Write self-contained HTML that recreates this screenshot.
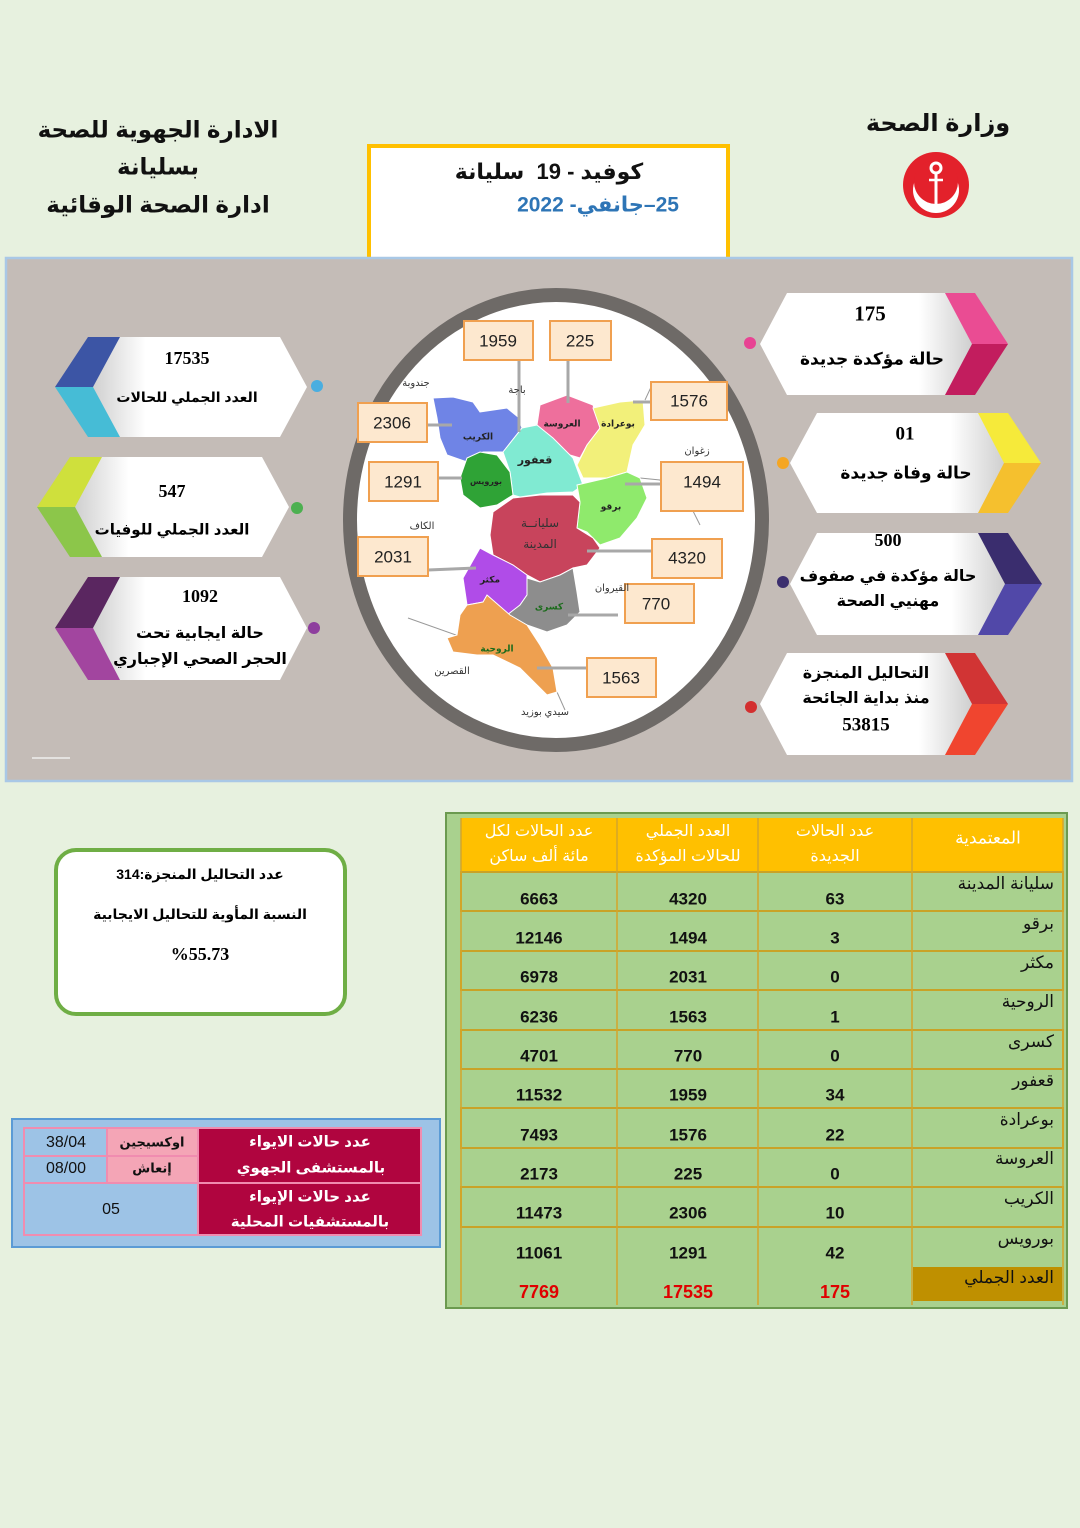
<!DOCTYPE html>
<html><head><meta charset="utf-8">
<style>
html,body{margin:0;padding:0}
body{width:1080px;height:1528px;background:#e7f1df;position:relative;overflow:hidden;font-family:"Liberation Sans","DejaVu Sans",sans-serif}
.t{position:absolute;white-space:nowrap;transform:translate(-50%,-50%);text-align:center;line-height:1}
.ar{direction:rtl;font-family:"Liberation Sans","DejaVu Sans",sans-serif;font-weight:bold}
.num{font-family:"Liberation Serif",serif;font-weight:bold}
.r{position:absolute;white-space:nowrap;direction:rtl;line-height:1;font-family:"Liberation Sans","DejaVu Sans",sans-serif}
svg{position:absolute;left:0;top:0}
</style></head><body>
<svg width="1080" height="1528" viewBox="0 0 1080 1528">
<defs>
<linearGradient id="gl" x1="0" x2="1" y1="0" y2="0"><stop offset="0" stop-color="#cfcfcf"/><stop offset="0.25" stop-color="#ffffff"/><stop offset="1" stop-color="#ffffff"/></linearGradient>
<linearGradient id="gr" x1="1" x2="0" y1="0" y2="0"><stop offset="0" stop-color="#cfcfcf"/><stop offset="0.25" stop-color="#ffffff"/><stop offset="1" stop-color="#ffffff"/></linearGradient>
</defs>
<!-- header box -->
<rect x="369" y="146" width="359" height="114" fill="#fff" stroke="#ffc000" stroke-width="4"/>
<!-- logo -->
<circle cx="936" cy="185" r="33" fill="#e3212b"/>
<circle cx="936" cy="190" r="23" fill="#fff"/>
<circle cx="936" cy="182" r="22" fill="#e3212b"/>
<circle cx="936" cy="168" r="5" fill="none" stroke="#fff" stroke-width="3"/>
<line x1="936" y1="173" x2="936" y2="210" stroke="#fff" stroke-width="3"/>
<line x1="929" y1="180" x2="943" y2="180" stroke="#fff" stroke-width="2.5"/>
<!-- panel -->
<rect x="6" y="258" width="1066" height="523" fill="#c4bcb7" stroke="#a9c8e6" stroke-width="2.5"/>
<line x1="32" y1="758" x2="70" y2="758" stroke="#eee" stroke-width="1.5"/>
<!-- circle -->
<ellipse cx="556" cy="520" rx="206" ry="225" fill="#fff" stroke="#6e6a67" stroke-width="14"/>
<!-- left cards -->
<polygon points="118,337 280,337 307,387 280,437 118,437 92,387" fill="url(#gl)"/>
<polygon points="88,337 120,337 93,387 55,387" fill="#3c55a5"/>
<polygon points="55,387 93,387 120,437 88,437" fill="#46bcd6"/>
<circle cx="317" cy="386" r="6" fill="#4aaee0"/>
<polygon points="100,457 262,457 289,507 262,557 100,557 75,507" fill="url(#gl)"/>
<polygon points="70,457 102,457 75,507 37,507" fill="#cfe03c"/>
<polygon points="37,507 75,507 102,557 70,557" fill="#8cc64a"/>
<circle cx="297" cy="508" r="6" fill="#4cb050"/>
<polygon points="118,577 280,577 307,628 280,680 118,680 92,628" fill="url(#gl)"/>
<polygon points="88,577 120,577 93,628 55,628" fill="#5a2660"/>
<polygon points="55,628 93,628 120,680 88,680" fill="#a2459f"/>
<circle cx="314" cy="628" r="6" fill="#8e3e9e"/>
<!-- right cards -->
<polygon points="787,293 950,293 972,344 950,395 787,395 760,344" fill="url(#gr)"/>
<polygon points="945,293 975,293 1008,344 972,344" fill="#ea4c93"/>
<polygon points="972,344 1008,344 975,395 945,395" fill="#c21d5e"/>
<circle cx="750" cy="343" r="6" fill="#e84393"/>
<polygon points="817,413 982,413 1004,463 982,513 817,513 790,463" fill="url(#gr)"/>
<polygon points="978,413 1008,413 1041,463 1004,463" fill="#f6ea3a"/>
<polygon points="1004,463 1041,463 1008,513 978,513" fill="#f5c02e"/>
<circle cx="783" cy="463" r="6" fill="#f5a623"/>
<polygon points="817,533 982,533 1005,584 982,635 817,635 790,584" fill="url(#gr)"/>
<polygon points="978,533 1008,533 1042,584 1005,584" fill="#3a2d6e"/>
<polygon points="1005,584 1042,584 1008,635 978,635" fill="#5148a8"/>
<circle cx="783" cy="582" r="6" fill="#3c2f6e"/>
<polygon points="787,653 950,653 972,704 950,755 787,755 760,704" fill="url(#gr)"/>
<polygon points="945,653 975,653 1008,704 972,704" fill="#d13434"/>
<polygon points="972,704 1008,704 975,755 945,755" fill="#f0452f"/>
<circle cx="751" cy="707" r="6" fill="#d32f2f"/>
<!-- map outline context lines -->
<g fill="none" stroke="#999" stroke-width="1">
<path d="M645,400 L652,385 L668,382"/>
<path d="M640,478 L660,480 L668,497 L690,505 L700,525"/>
<path d="M470,640 L408,618"/>
<path d="M557,692 L565,710"/>
</g>
<!-- map regions -->
<g stroke="#ffffff" stroke-width="1">
<polygon points="433,398 453,397 473,402 480,412 507,408 518,417 522,428 503,452 483,452 467,462 447,455 440,438 437,418" fill="#6f84e6"/>
<polygon points="540,405 567,395 593,405 600,428 587,445 580,458 560,452 540,432 537,425" fill="#ee6f9c"/>
<polygon points="593,408 620,402 643,400 645,425 633,445 627,472 607,478 583,478 577,465 587,445 600,428" fill="#f2f07a"/>
<polygon points="503,452 522,428 537,425 553,438 573,458 583,485 573,492 547,493 520,497 513,495 510,472" fill="#80ead2"/>
<polygon points="467,458 480,452 497,455 510,472 513,495 497,505 480,508 463,495 460,478" fill="#2fa336"/>
<polygon points="577,485 607,478 627,472 640,478 647,498 637,518 620,538 600,545 587,532 577,528 580,502" fill="#8fea6c"/>
<polygon points="493,512 513,498 540,495 573,495 580,502 577,528 593,538 600,548 587,565 573,568 560,575 540,582 527,575 513,565 493,555 490,535" fill="#c8445c"/>
<polygon points="480,548 493,555 513,565 527,575 527,595 520,605 510,615 497,608 483,602 467,605 463,578" fill="#b04ce8"/>
<polygon points="527,578 540,582 560,575 573,568 577,592 580,612 567,625 547,632 527,625 507,615 520,605 527,595" fill="#8d8d8d"/>
<polygon points="467,605 483,602 487,595 510,615 527,625 540,645 553,668 557,692 547,695 520,668 493,655 477,655 453,652 447,638 457,635 460,615" fill="#eea050"/>
</g>
<!-- connector lines -->
<g stroke="#a8a8a8" stroke-width="3">
<line x1="519" y1="360" x2="519" y2="432"/>
<line x1="568" y1="360" x2="568" y2="403"/>
<line x1="427" y1="425" x2="452" y2="425"/>
<line x1="438" y1="478" x2="462" y2="478"/>
<line x1="651" y1="402" x2="633" y2="402"/>
<line x1="661" y1="484" x2="625" y2="484"/>
<line x1="428" y1="570" x2="476" y2="568"/>
<line x1="652" y1="551" x2="587" y2="551"/>
<line x1="618" y1="615" x2="568" y2="615"/>
<line x1="587" y1="668" x2="537" y2="668"/>
</g>
<!-- number boxes -->
<g fill="#fde8cf" stroke="#f0a050" stroke-width="2">
<rect x="464" y="321" width="69" height="39"/>
<rect x="550" y="321" width="61" height="39"/>
<rect x="651" y="382" width="76" height="38"/>
<rect x="358" y="403" width="69" height="39"/>
<rect x="661" y="462" width="82" height="49"/>
<rect x="369" y="462" width="69" height="39"/>
<rect x="358" y="537" width="70" height="39"/>
<rect x="652" y="539" width="70" height="39"/>
<rect x="625" y="584" width="69" height="39"/>
<rect x="587" y="658" width="69" height="39"/>
</g>
<!-- green box -->
<rect x="56" y="850" width="289" height="164" rx="20" fill="#fff" stroke="#6fae45" stroke-width="4"/>
<!-- hospital table -->
<rect x="12" y="1119" width="428" height="128" fill="#9dc3e6" stroke="#5b9bd5" stroke-width="2"/>
<g stroke="#f08cb0" stroke-width="2">
<rect x="24" y="1128" width="83" height="28" fill="#9dc3e6"/>
<rect x="24" y="1156" width="83" height="27" fill="#9dc3e6"/>
<rect x="107" y="1128" width="91" height="28" fill="#f4a5b6"/>
<rect x="107" y="1156" width="91" height="27" fill="#f4a5b6"/>
<rect x="198" y="1128" width="223" height="55" fill="#b0053f"/>
<rect x="24" y="1183" width="174" height="52" fill="#9dc3e6"/>
<rect x="198" y="1183" width="223" height="52" fill="#b0053f"/>
</g>
<!-- main table -->
<rect x="446" y="813" width="621" height="495" fill="#a9d18e" stroke="#6b9a4f" stroke-width="2"/>
<rect x="461" y="818" width="602" height="54" fill="#ffc000"/>
<g fill="none" stroke="#c9a227" stroke-width="2">
<rect x="461" y="872" width="602" height="39"/>
<rect x="461" y="951" width="602" height="39"/>
<rect x="461" y="1030" width="602" height="39"/>
<rect x="461" y="1108" width="602" height="40"/>
<rect x="461" y="1187" width="602" height="40"/>
</g>
<g stroke="#d4a62a" stroke-width="1.5">
<line x1="461" y1="818" x2="461" y2="1305"/>
<line x1="617" y1="818" x2="617" y2="1305"/>
<line x1="758" y1="818" x2="758" y2="1305"/>
<line x1="912" y1="818" x2="912" y2="1305"/>
<line x1="1063" y1="818" x2="1063" y2="1305"/>
</g>
<rect x="913" y="1267" width="149" height="34" fill="#bf9000"/>
</svg>

<!-- header text -->
<div class="t ar" style="left:938px;top:124px;font-size:24px;color:#111">وزارة الصحة</div>
<div class="t ar" style="left:158px;top:130px;font-size:23px;color:#111">الادارة الجهوية للصحة</div>
<div class="t ar" style="left:158px;top:167px;font-size:23px;color:#111">بسليانة</div>
<div class="t ar" style="left:158px;top:205px;font-size:23px;color:#111">ادارة الصحة الوقائية</div>
<div class="t ar" style="left:549px;top:172px;font-size:22px;color:#111">كوفيد - 19&nbsp; سليانة</div>
<div class="t ar" style="left:598px;top:205px;font-size:21px;color:#2e75b6">25–جانفي- 2022</div>

<!-- left cards text -->
<div class="t num" style="left:187px;top:358px;font-size:18px">17535</div>
<div class="t ar" style="left:187px;top:397px;font-size:14px">العدد الجملي للحالات</div>
<div class="t num" style="left:172px;top:491px;font-size:18px">547</div>
<div class="t ar" style="left:172px;top:530px;font-size:15px">العدد الجملي للوفيات</div>
<div class="t num" style="left:200px;top:596px;font-size:18px">1092</div>
<div class="t ar" style="left:200px;top:634px;font-size:16px">حالة ايجابية تحت</div>
<div class="t ar" style="left:200px;top:660px;font-size:16px">الحجر الصحي الإجباري</div>

<!-- right cards text -->
<div class="t num" style="left:870px;top:314px;font-size:21px">175</div>
<div class="t ar" style="left:872px;top:359px;font-size:17px">حالة مؤكدة جديدة</div>
<div class="t num" style="left:905px;top:434px;font-size:19px">01</div>
<div class="t ar" style="left:906px;top:473px;font-size:17px">حالة وفاة جديدة</div>
<div class="t num" style="left:888px;top:540px;font-size:18px">500</div>
<div class="t ar" style="left:888px;top:577px;font-size:16px">حالة مؤكدة في صفوف</div>
<div class="t ar" style="left:888px;top:602px;font-size:16px">مهنيي الصحة</div>
<div class="t ar" style="left:866px;top:674px;font-size:16px">التحاليل المنجزة</div>
<div class="t ar" style="left:866px;top:699px;font-size:16px">منذ بداية الجائحة</div>
<div class="t num" style="left:866px;top:725px;font-size:19px">53815</div>

<!-- map numbers -->
<div class="t" style="left:498px;top:341px;font-size:17px;color:#222">1959</div>
<div class="t" style="left:580px;top:341px;font-size:17px;color:#222">225</div>
<div class="t" style="left:689px;top:401px;font-size:17px;color:#222">1576</div>
<div class="t" style="left:392px;top:423px;font-size:17px;color:#222">2306</div>
<div class="t" style="left:702px;top:482px;font-size:17px;color:#222">1494</div>
<div class="t" style="left:403px;top:482px;font-size:17px;color:#222">1291</div>
<div class="t" style="left:393px;top:557px;font-size:17px;color:#222">2031</div>
<div class="t" style="left:687px;top:558px;font-size:17px;color:#222">4320</div>
<div class="t" style="left:656px;top:604px;font-size:17px;color:#222">770</div>
<div class="t" style="left:621px;top:678px;font-size:17px;color:#222">1563</div>

<!-- map labels -->
<div class="t ar" style="left:478px;top:437px;font-size:9px;color:#222">الكريب</div>
<div class="t ar" style="left:562px;top:424px;font-size:9px;color:#222">العروسة</div>
<div class="t ar" style="left:618px;top:424px;font-size:9px;color:#222">بوعرادة</div>
<div class="t ar" style="left:535px;top:461px;font-size:11px;color:#222">قعفور</div>
<div class="t ar" style="left:486px;top:482px;font-size:8px;color:#222">بورويس</div>
<div class="t ar" style="left:611px;top:507px;font-size:9px;color:#222">برقو</div>
<div class="t ar" style="left:540px;top:523px;font-size:12px;color:#333;font-weight:normal">سليانــة</div>
<div class="t ar" style="left:540px;top:544px;font-size:12px;color:#333;font-weight:normal">المدينة</div>
<div class="t ar" style="left:490px;top:580px;font-size:9px;color:#222">مكثر</div>
<div class="t ar" style="left:549px;top:607px;font-size:9px;color:#1b6b1b">كسرى</div>
<div class="t ar" style="left:497px;top:649px;font-size:9px;color:#1b6b1b">الروحية</div>
<div class="t ar" style="left:416px;top:384px;font-size:10px;color:#333;font-weight:normal">جندوبة</div>
<div class="t ar" style="left:517px;top:391px;font-size:10px;color:#333;font-weight:normal">باجة</div>
<div class="t ar" style="left:697px;top:452px;font-size:10px;color:#333;font-weight:normal">زغوان</div>
<div class="t ar" style="left:422px;top:527px;font-size:10px;color:#333;font-weight:normal">الكاف</div>
<div class="t ar" style="left:612px;top:589px;font-size:10px;color:#333;font-weight:normal">القيروان</div>
<div class="t ar" style="left:452px;top:672px;font-size:10px;color:#333;font-weight:normal">القصرين</div>
<div class="t ar" style="left:545px;top:713px;font-size:10px;color:#333;font-weight:normal">سيدي بوزيد</div>

<!-- green box text -->
<div class="t ar" style="left:200px;top:874px;font-size:14px">عدد التحاليل المنجزة:314</div>
<div class="t ar" style="left:200px;top:914px;font-size:14px">النسبة المأوية للتحاليل الايجابية</div>
<div class="t num" style="left:200px;top:954px;font-size:18px">%55.73</div>

<!-- hospital text -->
<div class="t ar" style="left:310px;top:1142px;font-size:15px;color:#fff">عدد حالات الايواء</div>
<div class="t ar" style="left:311px;top:1168px;font-size:15px;color:#fff">بالمستشفى الجهوي</div>
<div class="t ar" style="left:310px;top:1197px;font-size:15px;color:#fff">عدد حالات الإيواء</div>
<div class="t ar" style="left:310px;top:1222px;font-size:15px;color:#fff">بالمستشفيات المحلية</div>
<div class="t ar" style="left:152px;top:1142px;font-size:13px;color:#111">اوكسيجين</div>
<div class="t ar" style="left:152px;top:1168px;font-size:13px;color:#111">إنعاش</div>
<div class="t" style="left:66px;top:1143px;font-size:16px;color:#111">38/04</div>
<div class="t" style="left:66px;top:1169px;font-size:16px;color:#111">08/00</div>
<div class="t" style="left:111px;top:1210px;font-size:16px;color:#111">05</div>

<!-- table header -->
<div class="t ar" style="left:539px;top:832px;font-size:16px;color:#fff;font-weight:normal">عدد الحالات لكل</div>
<div class="t ar" style="left:539px;top:857px;font-size:16px;color:#fff;font-weight:normal">مائة ألف ساكن</div>
<div class="t ar" style="left:688px;top:832px;font-size:16px;color:#fff;font-weight:normal">العدد الجملي</div>
<div class="t ar" style="left:688px;top:857px;font-size:16px;color:#fff;font-weight:normal">للحالات المؤكدة</div>
<div class="t ar" style="left:835px;top:832px;font-size:16px;color:#fff;font-weight:normal">عدد الحالات</div>
<div class="t ar" style="left:835px;top:857px;font-size:16px;color:#fff;font-weight:normal">الجديدة</div>
<div class="t ar" style="left:988px;top:838px;font-size:17px;color:#fff;font-weight:normal">المعتمدية</div>

<!-- table rows -->
<div style="position:absolute;left:0;top:0;width:1080px;height:1528px;font-size:17px;color:#111">
<div class="r" style="right:26px;top:875px">سليانة المدينة</div>
<div class="r" style="right:26px;top:915px">برقو</div>
<div class="r" style="right:26px;top:954px">مكثر</div>
<div class="r" style="right:26px;top:993px">الروحية</div>
<div class="r" style="right:26px;top:1033px">كسرى</div>
<div class="r" style="right:26px;top:1072px">قعفور</div>
<div class="r" style="right:26px;top:1111px">بوعرادة</div>
<div class="r" style="right:26px;top:1150px">العروسة</div>
<div class="r" style="right:26px;top:1190px">الكريب</div>
<div class="r" style="right:26px;top:1230px">بورويس</div>
<div class="r" style="right:26px;top:1269px">العدد الجملي</div>
</div>

<div style="position:absolute;left:0;top:0;width:1080px;height:1528px;font-weight:bold;font-size:17px;color:#111">
<div class="t" style="left:539px;top:899px">6663</div><div class="t" style="left:688px;top:899px">4320</div><div class="t" style="left:835px;top:899px">63</div>
<div class="t" style="left:539px;top:938px">12146</div><div class="t" style="left:688px;top:938px">1494</div><div class="t" style="left:835px;top:938px">3</div>
<div class="t" style="left:539px;top:977px">6978</div><div class="t" style="left:688px;top:977px">2031</div><div class="t" style="left:835px;top:977px">0</div>
<div class="t" style="left:539px;top:1017px">6236</div><div class="t" style="left:688px;top:1017px">1563</div><div class="t" style="left:835px;top:1017px">1</div>
<div class="t" style="left:539px;top:1056px">4701</div><div class="t" style="left:688px;top:1056px">770</div><div class="t" style="left:835px;top:1056px">0</div>
<div class="t" style="left:539px;top:1095px">11532</div><div class="t" style="left:688px;top:1095px">1959</div><div class="t" style="left:835px;top:1095px">34</div>
<div class="t" style="left:539px;top:1135px">7493</div><div class="t" style="left:688px;top:1135px">1576</div><div class="t" style="left:835px;top:1135px">22</div>
<div class="t" style="left:539px;top:1174px">2173</div><div class="t" style="left:688px;top:1174px">225</div><div class="t" style="left:835px;top:1174px">0</div>
<div class="t" style="left:539px;top:1213px">11473</div><div class="t" style="left:688px;top:1213px">2306</div><div class="t" style="left:835px;top:1213px">10</div>
<div class="t" style="left:539px;top:1253px">11061</div><div class="t" style="left:688px;top:1253px">1291</div><div class="t" style="left:835px;top:1253px">42</div>
<div class="t" style="left:539px;top:1292px;color:#e00000;font-size:18px">7769</div><div class="t" style="left:688px;top:1292px;color:#e00000;font-size:18px">17535</div><div class="t" style="left:835px;top:1292px;color:#e00000;font-size:18px">175</div>
</div>
</body></html>
